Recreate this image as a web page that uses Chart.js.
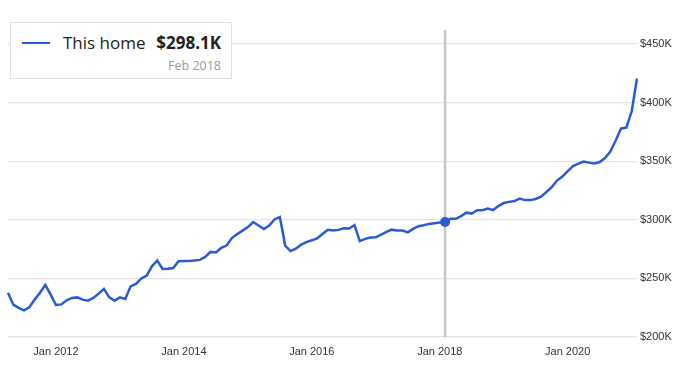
<!DOCTYPE html>
<html>
<head>
<meta charset="utf-8">
<script src="https://cdn.jsdelivr.net/npm/chart.js@4"></script>
<style>
  html, body { margin: 0; padding: 0; background: #fff; }
  #wrap { position: relative; width: 690px; height: 376px; }
  #c { position: absolute; left: 0; top: 0; }
  #box {
    position: absolute; left: 10px; top: 22px; width: 220px; height: 55px;
    border: 1px solid #e2e2e2; background: #fff; z-index: 2;
    font-family: "Open Sans", sans-serif;
  }
  #box .swatch { position: absolute; left: 11px; top: 19px; width: 28px; height: 2px; background: #2a5bd7; }
  #box .name { position: absolute; left: 52px; top: 8px; font-size: 17px; color: #222; }
  #box .val { position: absolute; right: 10px; top: 8px; font-size: 17px; font-weight: bold; color: #222; }
  #box .date { position: absolute; right: 10px; top: 34px; font-size: 12.5px; color: #9a9a9a; }
</style>
</head>
<body>
<div id="wrap">
  <canvas id="c" width="690" height="376"></canvas>
  <div id="box">
    <div class="swatch"></div>
    <div class="name" id="seriesName"></div>
    <div class="val" id="selVal"></div>
    <div class="date" id="selDate"></div>
  </div>
</div>
<script>
// ---- data ----
const seriesName = "This home";
const startYear = 2011, startMonth = 4; // first category: Apr 2011
const monthNames = ["Jan","Feb","Mar","Apr","May","Jun","Jul","Aug","Sep","Oct","Nov","Dec"];
// home value in $K, monthly Apr 2011 .. Feb 2021
const values = [
  237.8, 227.6, 224.8, 222.7, 225.4, 231.9, 237.8, 244.4, 236.1, 227.3,
  227.8, 231.3, 233.3, 233.8, 231.9, 231.0, 233.3, 237.0, 241.0, 233.8,
  231.0, 233.8, 232.5, 243.2, 245.3, 250.0, 252.3, 260.3, 265.2, 258.1,
  258.3, 258.9, 264.6, 264.9, 264.9, 265.2, 265.8, 268.3, 272.6, 272.2,
  276.0, 278.0, 284.4, 287.8, 290.8, 293.8, 298.1, 295.1, 292.1, 295.1,
  300.3, 302.4, 278.0, 273.3, 275.4, 278.8, 281.0, 282.5, 284.2, 287.8,
  291.4, 290.8, 291.4, 292.7, 292.5, 295.5, 281.8, 283.7, 284.8, 285.1,
  287.4, 289.7, 291.6, 290.8, 290.8, 289.3, 292.2, 294.5, 295.3, 296.5,
  297.0, 297.6, 298.1, 300.8, 300.8, 303.2, 306.1, 305.3, 308.1, 308.1,
  309.6, 308.3, 311.7, 314.3, 315.3, 316.0, 318.1, 316.8, 316.8, 317.8,
  319.8, 323.7, 327.9, 333.5, 336.9, 341.6, 345.9, 348.0, 349.7, 348.8,
  348.0, 349.3, 352.7, 358.2, 367.6, 377.9, 378.7, 392.4, 420.6
];
const tickLabels = ["Jan 2012", "Jan 2014", "Jan 2016", "Jan 2018", "Jan 2020"];
const yTicks = [200, 250, 300, 350, 400, 450];
const selectedLabel = "Feb 2018";

// categories
const categories = [];
for (let i = 0; i < values.length; i++) {
  const m = (startMonth - 1 + i) % 12;
  const y = startYear + Math.floor((startMonth - 1 + i) / 12);
  categories.push(monthNames[m] + " " + y);
}
const selIndex = categories.indexOf(selectedLabel);

document.getElementById("seriesName").textContent = seriesName;
document.getElementById("selVal").textContent = "$" + values[selIndex].toFixed(1) + "K";
document.getElementById("selDate").textContent = selectedLabel;

const blue = "#2a5bd7";
const cursorLine = {
  id: "cursorLine",
  beforeDatasetsDraw(chart) {
    const x = chart.scales.x.getPixelForValue(selIndex);
    const ctx = chart.ctx;
    ctx.save();
    ctx.strokeStyle = "#c6c6c6";
    ctx.lineWidth = 2.5;
    ctx.beginPath();
    ctx.moveTo(x, 30);
    ctx.lineTo(x, chart.chartArea.bottom);
    ctx.stroke();
    ctx.restore();
  }
};

new Chart(document.getElementById("c"), {
  type: "line",
  data: {
    labels: categories,
    datasets: [{
      label: seriesName,
      data: values,
      borderColor: blue,
      backgroundColor: blue,
      borderWidth: 2.5,
      tension: 0,
      pointRadius: values.map((v, i) => i === selIndex ? 5 : 0),
      pointBackgroundColor: blue,
      pointBorderWidth: 0,
      pointHoverRadius: 0
    }]
  },
  options: {
    responsive: false,
    animation: false,
    events: [],
    layout: { padding: { left: 8, top: 44, right: 0, bottom: 0 } },
    plugins: { legend: { display: false }, tooltip: { enabled: false } },
    scales: {
      x: {
        type: "category",
        offset: false,
        grid: { display: false, drawTicks: false },
        border: { display: false },
        afterFit(scale) { scale.height = 39; },
        ticks: {
          autoSkip: false,
          maxRotation: 0,
          padding: 8,
          color: "#333",
          font: { family: "Liberation Sans, Arial, sans-serif", size: 11 },
          callback(v, i) {
            const l = categories[i];
            return tickLabels.includes(l) ? l : "";
          }
        }
      },
      y: {
        position: "right",
        min: yTicks[0],
        max: yTicks[yTicks.length - 1],
        afterFit(scale) { scale.width = 53; },
        afterBuildTicks(scale) { scale.ticks = yTicks.map(v => ({ value: v })); },
        grid: { color: "#e4e4e4", lineWidth: 1.2, drawTicks: false },
        border: { display: false },
        ticks: {
          padding: 3,
          color: "#333",
          font: { family: "Liberation Sans, Arial, sans-serif", size: 11 },
          callback(v) { return "$" + v + "K"; }
        }
      }
    }
  },
  plugins: [cursorLine]
});
</script>
</body>
</html>
